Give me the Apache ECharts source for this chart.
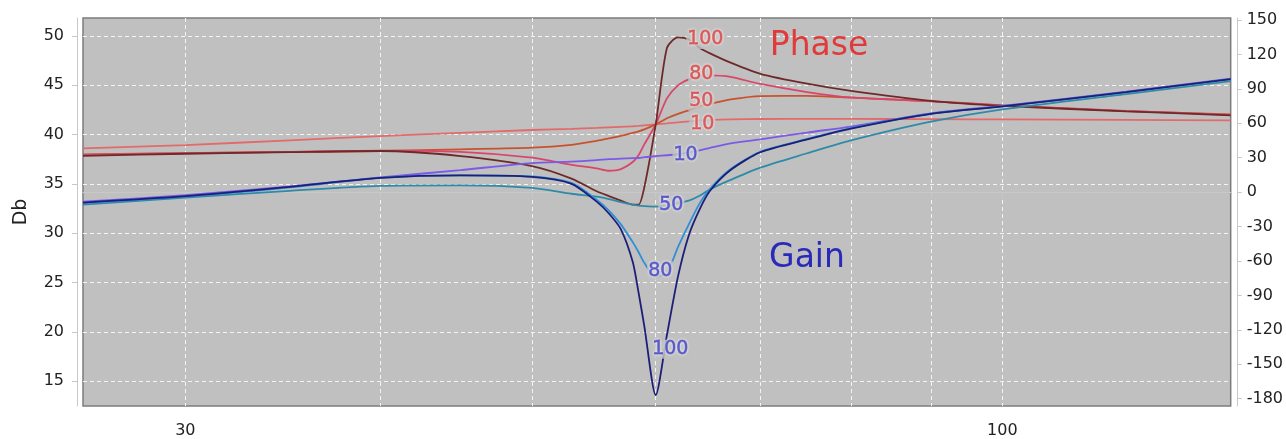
<!DOCTYPE html>
<html><head><meta charset="utf-8">
<script src="https://cdn.jsdelivr.net/npm/echarts@6/dist/echarts.min.js"></script>
<style>html,body{margin:0;padding:0;background:#fff}#c{width:1286px;height:439px}</style>
</head><body><div id="c"></div>
<script>
// frequency samples (Hz)
const freqs  = [25.8, 30, 35, 40, 45, 50, 53, 55, 56, 57, 58, 58.5, 59, 60, 61, 62, 63, 64, 65, 67, 70, 75, 80, 90, 100, 120, 140];
// Gain (Db, left axis)
const gain10  = [33.2, 33.85, 34.75, 35.65, 36.4, 37.1, 37.25, 37.4, 37.5, 37.55, 37.6, 37.62, 37.7, 37.8, 37.9, 38.0, 38.2, 38.4, 38.65, 39.1, 39.5, 40.2, 40.8, 42.15, 42.9, 44.35, 45.65];
const gain50  = [32.9, 33.6, 34.3, 34.8, 34.85, 34.6, 34.0, 33.7, 33.45, 33.15, 32.9, 32.8, 32.75, 32.7, 32.8, 33.05, 33.3, 33.8, 34.45, 35.4, 36.65, 38.1, 39.4, 41.3, 42.55, 44.1, 45.4];
const gain80  = [33.05, 33.7, 34.65, 35.6, 35.85, 35.75, 35.1, 33.4, 32.3, 30.9, 29.1, 28.1, 27.0, 25.6, 26.0, 28.6, 30.9, 33.0, 34.5, 36.5, 38.25, 39.55, 40.65, 42.1, 42.85, 44.3, 45.6];
const gain100 = [33.1, 33.75, 34.7, 35.6, 35.85, 35.7, 35.0, 33.2, 32.0, 30.4, 27.1, 24.0, 20.6, 13.6, 19.7, 25.6, 29.8, 32.4, 34.3, 36.4, 38.2, 39.5, 40.6, 42.1, 42.85, 44.3, 45.6];
// Phase (degrees, right axis)
const phase10  = [38.1, 41.0, 45.1, 48.8, 51.6, 54.1, 55.1, 55.9, 56.4, 56.9, 57.3, 57.7, 58.2, 59.0, 59.9, 60.8, 61.6, 62.5, 63.0, 63.4, 63.7, 63.8, 63.8, 63.5, 63.3, 63.0, 62.5];
const phase50  = [32.9, 34.0, 35.0, 35.8, 37.3, 38.7, 41.2, 44.7, 46.8, 49.0, 51.6, 53.0, 54.7, 59.0, 64.3, 68.2, 71.2, 74.7, 76.9, 80.8, 83.7, 83.8, 82.3, 79.3, 75.6, 70.6, 67.7];
const phase80  = [32.5, 33.9, 35.0, 36.2, 35.0, 30.0, 23.8, 20.7, 18.6, 20.0, 26.2, 32.0, 41.6, 59.0, 81.7, 93.0, 98.2, 100.8, 101.7, 100.4, 94.2, 87.2, 82.5, 79.1, 75.6, 70.8, 67.3];
const phase100 = [31.6, 33.4, 34.8, 35.8, 31.4, 22.7, 11.8, 0.7, -3.5, -7.4, -10.9, -11.0, 4.2, 59.0, 125.6, 134.8, 133.0, 125.8, 120.9, 112.8, 103.1, 94.5, 88.2, 79.5, 75.1, 70.4, 66.9];

const qNames = ['10', '50', '80', '100'];
const gainLabelFreqs   = [62.7, 61.4, 60.4, 61.3];
const gainLabelValues  = [37.96, 32.9, 26.2, 18.24];
const phaseLabelFreqs  = [64.27, 64.17, 64.17, 64.55];
const phaseLabelValues = [59.0, 79.1, 102.6, 133.0];

const xTicks = [30, 40, 50, 60, 70, 80, 90, 100];
const xTickLabels = [30, 100];
const dbTicks = [15, 20, 25, 30, 35, 40, 45, 50];
const phaseTicks = [-180, -150, -120, -90, -60, -30, 0, 30, 60, 90, 120, 150];

const gainColors  = ['#7a5ae6', '#2f8aa8', '#2e8fd6', '#1c1f78'];
const phaseColors = ['#e26a6a', '#c8522f', '#d9466a', '#6e2a2a'];

function pairs(vals) { return freqs.map((f, i) => [f, vals[i]]); }

const FONT = 'DejaVu Sans';
const axisGray = '#c8c8c8';
const gridDash = { color: '#f4f4f4', width: 1, type: [4, 3] };

const series = [];
[phase10, phase50, phase80, phase100].forEach((d, i) => {
  series.push({ name: 'Phase ' + qNames[i], type: 'line', yAxisIndex: 1, data: pairs(d),
    showSymbol: false, smooth: 0.25, lineStyle: { color: phaseColors[i], width: 1.8 }, z: 2 });
});
[gain10, gain50, gain80, gain100].forEach((d, i) => {
  series.push({ name: 'Gain ' + qNames[i], type: 'line', yAxisIndex: 0, data: pairs(d),
    showSymbol: false, smooth: 0.25, lineStyle: { color: gainColors[i], width: 1.8 }, z: 3 });
});
const labelBase = { show: true, position: 'inside', formatter: '{b}', fontSize: 19, fontFamily: FONT,
  textBorderWidth: 0.8, textShadowBlur: 3, textShadowOffsetX: 0, textShadowOffsetY: 0,
  textShadowColor: '#ffffff', backgroundColor: '#c0c0c0', padding: [0, 1] };
series.push({ type: 'scatter', yAxisIndex: 0, symbolSize: 1, silent: true, z: 10,
  itemStyle: { color: 'transparent' },
  data: qNames.map((q, i) => ({ name: q, value: [gainLabelFreqs[i], gainLabelValues[i]] })),
  label: Object.assign({}, labelBase, { color: '#3c3cc0', textBorderColor: '#3c3cc0' }) });
series.push({ type: 'scatter', yAxisIndex: 1, symbolSize: 1, silent: true, z: 10,
  itemStyle: { color: 'transparent' },
  data: qNames.map((q, i) => ({ name: q, value: [phaseLabelFreqs[i], phaseLabelValues[i]] })),
  label: Object.assign({}, labelBase, { color: '#d63c3c', textBorderColor: '#d63c3c' }) });

const chart = echarts.init(document.getElementById('c'), null, { renderer: 'canvas' });
chart.setOption({
  animation: false,
  backgroundColor: '#ffffff',
  grid: { left: 83, top: 18, width: 1148, height: 389, show: true, backgroundColor: '#c0c0c0',
    borderColor: '#7c7c7c', borderWidth: 1.5 },
  xAxis: { type: 'log', logBase: 10, min: 25.8, max: 140, offset: 5,
    axisLine: { show: true, lineStyle: { color: axisGray, width: 1 } },
    axisTick: { show: true, customValues: xTicks, length: 5, lineStyle: { color: axisGray } },
    axisLabel: { customValues: xTickLabels, margin: 12, color: '#222', fontSize: 16, fontFamily: FONT },
    splitLine: { show: true, lineStyle: gridDash },
    minorTick: { show: false }, minorSplitLine: { show: false } },
  yAxis: [
    { type: 'value', position: 'left', min: 12.5, max: 51.8, offset: 6,
      name: 'Db', nameLocation: 'middle', nameGap: 46,
      nameTextStyle: { color: '#222', fontSize: 19, fontFamily: FONT },
      axisLine: { show: true, lineStyle: { color: axisGray, width: 1 } },
      axisTick: { show: true, customValues: dbTicks, length: 5, lineStyle: { color: axisGray } },
      axisLabel: { customValues: dbTicks, margin: 13, color: '#222', fontSize: 16, fontFamily: FONT },
      splitLine: { show: true, lineStyle: gridDash } },
    { type: 'value', position: 'right', min: -186.4, max: 151.7, offset: 7,
      axisLine: { show: true, lineStyle: { color: axisGray, width: 1 } },
      axisTick: { show: true, customValues: phaseTicks, length: 4, lineStyle: { color: axisGray } },
      axisLabel: { customValues: phaseTicks, margin: 9, color: '#222', fontSize: 16, fontFamily: FONT },
      splitLine: { show: false } }
  ],
  graphic: [
    { type: 'text', x: 819, y: 46, z: 100, style: { text: 'Phase', align: 'center', verticalAlign: 'middle',
      fill: '#e03a3a', shadowColor: '#ffffff', shadowBlur: 3, font: '33px "DejaVu Sans"' } },
    { type: 'text', x: 807, y: 258, z: 100, style: { text: 'Gain', align: 'center', verticalAlign: 'middle',
      fill: '#2a2ab8', shadowColor: '#ffffff', shadowBlur: 3, font: '33px "DejaVu Sans"' } }
  ],
  series: series
});
</script>
</body></html>
